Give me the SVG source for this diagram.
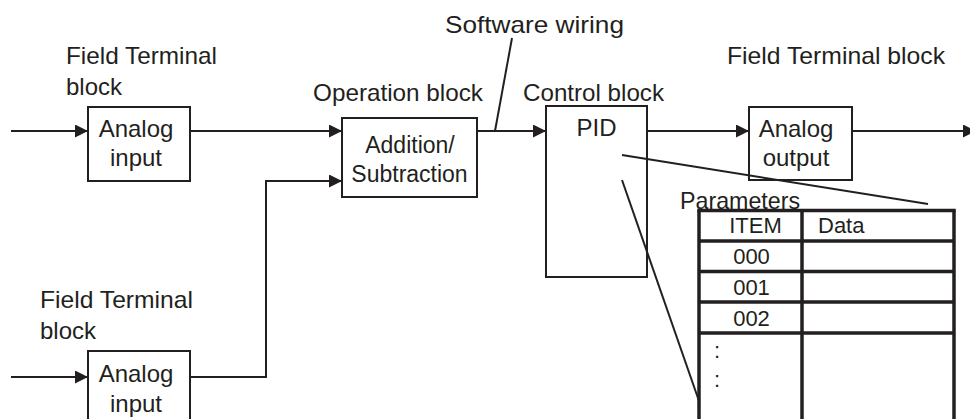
<svg xmlns="http://www.w3.org/2000/svg" width="970" height="419" viewBox="0 0 970 419">
<style>
text{font-family:"Liberation Sans",Arial,sans-serif;font-size:24px;fill:#231f20}
.c{text-anchor:middle}
.t{font-size:22px}
.s{font-size:23px}
.box{fill:#fff;stroke:#231f20;stroke-width:2}
.ln{fill:none;stroke:#231f20;stroke-width:2}
.tb{fill:none;stroke:#231f20;stroke-width:3.5}
</style>
<defs>
<marker id="ah" markerUnits="userSpaceOnUse" markerWidth="14" markerHeight="14" refX="13" refY="6.5" orient="auto">
<path d="M0,0 L13,6.5 L0,13 Z" fill="#231f20"/>
</marker>
</defs>
<g id="labels">
<text x="66" y="64" textLength="151" lengthAdjust="spacingAndGlyphs">Field Terminal</text>
<text x="66" y="95">block</text>
<text x="313" y="101" textLength="170" lengthAdjust="spacingAndGlyphs">Operation block</text>
<text x="445" y="33" textLength="179" lengthAdjust="spacingAndGlyphs">Software wiring</text>
<text x="523" y="101" textLength="141" lengthAdjust="spacingAndGlyphs">Control block</text>
<text x="727" y="64" textLength="218" lengthAdjust="spacingAndGlyphs">Field Terminal block</text>
<text x="40" y="308" textLength="153" lengthAdjust="spacingAndGlyphs">Field Terminal</text>
<text x="40" y="339">block</text>
<text x="680" y="209" textLength="120" lengthAdjust="spacingAndGlyphs">Parameters</text>
</g>
<g id="connectors">
<line class="ln" x1="11" y1="131" x2="88" y2="131" marker-end="url(#ah)"/>
<line class="ln" x1="190" y1="131" x2="342" y2="131" marker-end="url(#ah)"/>
<line class="ln" x1="11" y1="377" x2="88" y2="377" marker-end="url(#ah)"/>
<polyline class="ln" points="190,377 266,377 266,181 342,181" marker-end="url(#ah)"/>
<line class="ln" x1="477" y1="131" x2="546" y2="131" marker-end="url(#ah)"/>
<line class="ln" x1="647" y1="131" x2="749" y2="131" marker-end="url(#ah)"/>
<line class="ln" x1="852" y1="131" x2="976" y2="131" marker-end="url(#ah)"/>
<line class="ln" x1="512" y1="38" x2="495" y2="131"/>
</g>
<g id="in1">
<rect class="box" x="88" y="107" width="102" height="74"/>
<text class="c" x="136" y="137">Analog</text>
<text class="c" x="136" y="166">input</text>
</g>
<g id="in2">
<rect class="box" x="88" y="351" width="102" height="80"/>
<text class="c" x="136" y="382">Analog</text>
<text class="c" x="136" y="412">input</text>
</g>
<g id="op">
<rect class="box" x="342" y="118" width="135" height="79"/>
<text class="c s" x="410" y="153">Addition/</text>
<text class="c s" x="409.5" y="182">Subtraction</text>
</g>
<g id="pid">
<rect class="box" x="546" y="106" width="101" height="171"/>
<text class="c" x="596.5" y="136">PID</text>
</g>
<g id="out">
<rect class="box" x="749" y="107" width="103" height="73"/>
<text class="c" x="796" y="137">Analog</text>
<text class="c" x="796" y="166">output</text>
</g>
<g id="zoomlines">
<line class="ln" x1="622" y1="155" x2="928" y2="204"/>
<line class="ln" x1="622" y1="180" x2="699" y2="401"/>
</g>
<g id="table">
<line class="tb" x1="699" y1="210.5" x2="699" y2="422"/>
<line class="tb" x1="802" y1="210.5" x2="802" y2="422"/>
<line class="tb" x1="954" y1="210.5" x2="954" y2="422"/>
<line class="tb" x1="697.25" y1="210.5" x2="955.75" y2="210.5"/>
<line class="tb" x1="699" y1="241" x2="954" y2="241"/>
<line class="tb" x1="699" y1="271.5" x2="954" y2="271.5"/>
<line class="tb" x1="699" y1="302" x2="954" y2="302"/>
<line class="tb" x1="699" y1="333" x2="954" y2="333"/>
<text class="t c" x="755.5" y="233">ITEM</text>
<text class="t" x="818" y="233">Data</text>
<text class="t c" x="751.5" y="264">000</text>
<text class="t c" x="751.5" y="295">001</text>
<text class="t c" x="751.5" y="326">002</text>
<text class="t" x="714" y="358">:</text>
<text class="t" x="714" y="387">:</text>
</g>
</svg>
